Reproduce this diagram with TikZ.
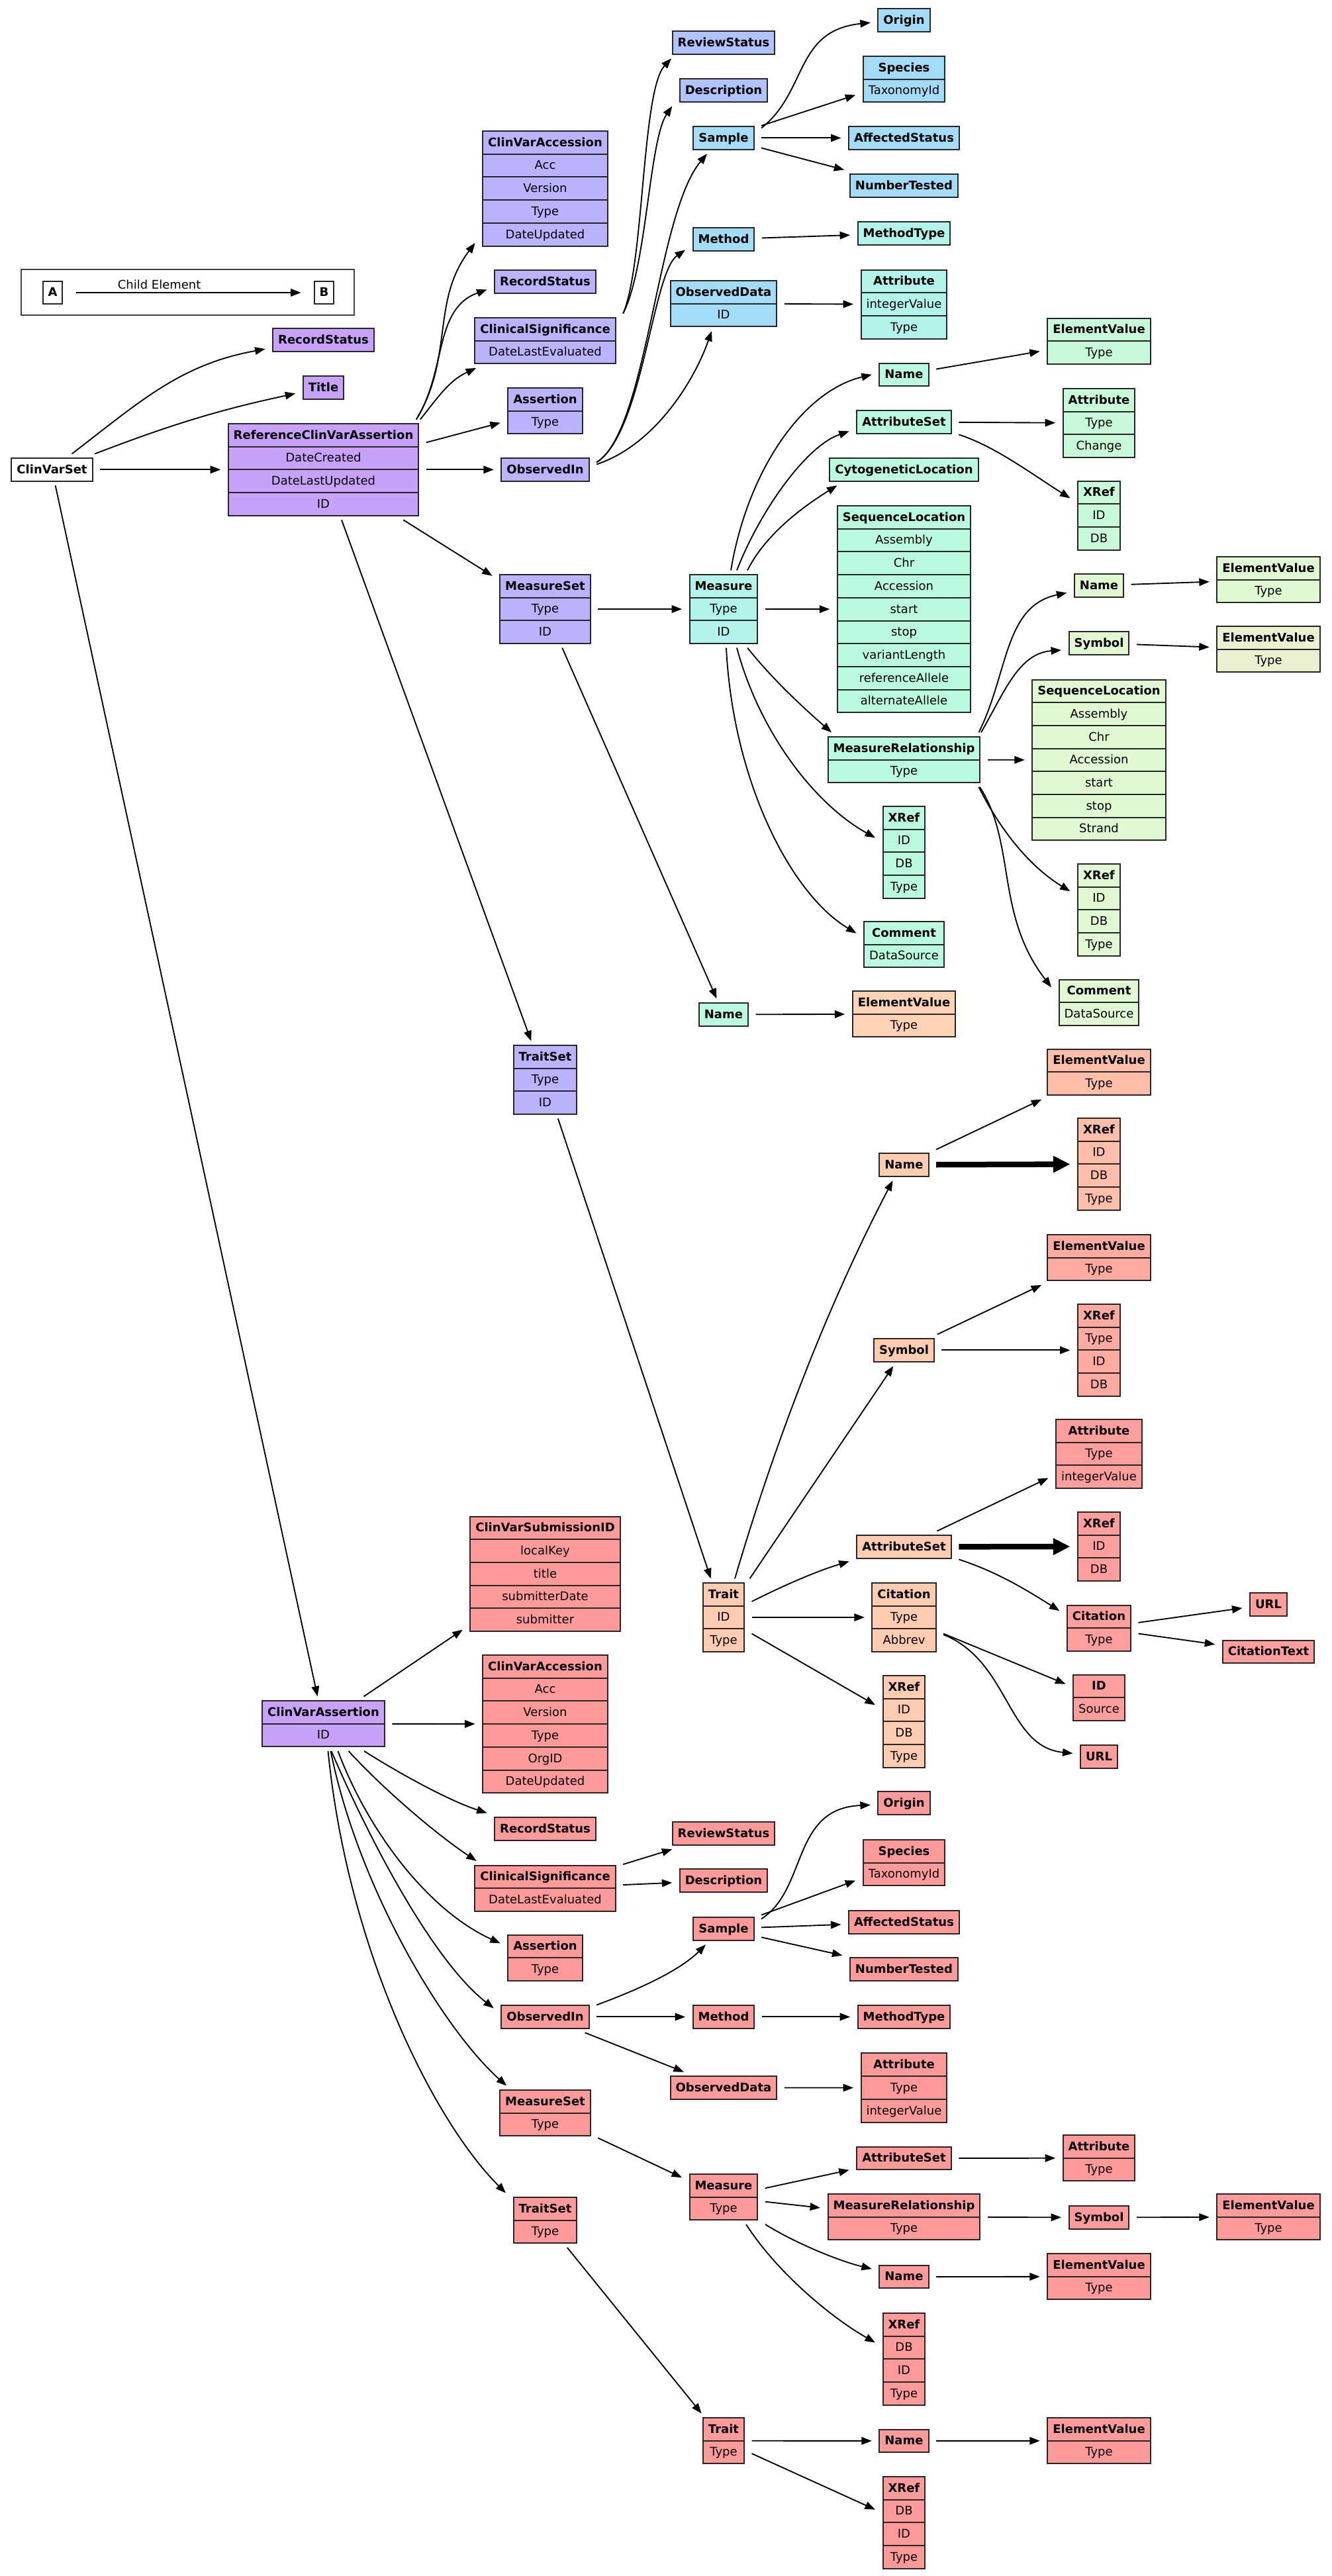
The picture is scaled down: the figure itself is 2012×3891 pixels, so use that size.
\documentclass[tikz,border=0pt]{standalone}
\usepackage{fontspec}
\setmainfont{DejaVu Sans}
\usepackage{xcolor}
\usepackage{tikz}
\usetikzlibrary{arrows.meta,calc,shapes.multipart}
\definecolor{cvPurple}{HTML}{C8A2F9}
\definecolor{cvLav}{HTML}{BCB3FE}
\definecolor{cvPeri}{HTML}{B0C3FC}
\definecolor{cvBlue}{HTML}{A2DCF6}
\definecolor{cvAqua}{HTML}{B2F3EA}
\definecolor{cvGreen}{HTML}{BAFAE3}
\definecolor{cvMint}{HTML}{C8FADA}
\definecolor{cvLime}{HTML}{E0F9D3}
\definecolor{cvKhaki}{HTML}{EBF1D0}
\definecolor{cvPeachA}{HTML}{FFD4B6}
\definecolor{cvPeach}{HTML}{FFCCB1}
\definecolor{cvSalmon}{HTML}{FFBEA9}
\definecolor{cvCoral}{HTML}{FFAAA0}
\definecolor{cvRose}{HTML}{FF9E9C}
\definecolor{cvRed}{HTML}{FF9A9A}
\newcommand{\rowstrut}{\rule[-4.2pt]{0pt}{13.08pt}}
\newcommand{\hdr}[1]{\rowstrut\textbf{#1}}
\newcommand{\fld}[1]{\rowstrut#1}

\begin{document}
\begin{tikzpicture}[
  x=0.4pt, y=-0.4pt,
  font=\fontsize{7.2}{8.6}\selectfont,
  rec/.style={rectangle split, rectangle split parts=#1, draw=black!85, line width=0.8pt,
              inner xsep=3.2pt, inner ysep=0pt, outer xsep=4.6pt, outer ysep=2.6pt},
  rec/.default=1,
  arrow/.style={-{Triangle[length=6.2pt,width=4.6pt]}, line width=0.75pt},
  bigarrow/.style={-{Triangle[length=10.3pt,width=9.6pt]}, line width=3.4pt}
]
\path[use as bounding box, fill=white] (0,0) rectangle (2012,3891);

\draw[line width=0.7pt, draw=black!75] (32,407) rectangle (535,476);
\node[rec, fill=white] (lgA) at (79.5,442) {\hdr{A}};
\node[rec, fill=white] (lgB) at (489.5,442) {\hdr{B}};

\node[rec, fill=white] (cvs) at (78.5,709.4) {\hdr{ClinVarSet}};
\node[rec, fill=cvPurple] (rsA) at (488.5,513.4) {\hdr{RecordStatus}};
\node[rec, fill=cvPurple] (title) at (488.5,585.4) {\hdr{Title}};
\node[rec=4, fill=cvPurple] (rcva) at (488.5,709.4) {\hdr{ReferenceClinVarAssertion}\nodepart{two}\fld{DateCreated}\nodepart{three}\fld{DateLastUpdated}\nodepart{four}\fld{ID}};
\node[rec=5, fill=cvLav] (cvaccA) at (823.5,284.75) {\hdr{ClinVarAccession}\nodepart{two}\fld{Acc}\nodepart{three}\fld{Version}\nodepart{four}\fld{Type}\nodepart{five}\fld{DateUpdated}};
\node[rec, fill=cvLav] (rsB) at (823.5,425.4) {\hdr{RecordStatus}};
\node[rec=2, fill=cvLav] (csA) at (823.5,514.7) {\hdr{ClinicalSignificance}\nodepart{two}\fld{DateLastEvaluated}};
\node[rec=2, fill=cvLav] (asrtA) at (823.5,620.7) {\hdr{Assertion}\nodepart{two}\fld{Type}};
\node[rec, fill=cvLav] (obsA) at (823.5,709.4) {\hdr{ObservedIn}};
\node[rec=3, fill=cvLav] (msA) at (823.5,920) {\hdr{MeasureSet}\nodepart{two}\fld{Type}\nodepart{three}\fld{ID}};
\node[rec=3, fill=cvLav] (tsA) at (823.5,1631) {\hdr{TraitSet}\nodepart{two}\fld{Type}\nodepart{three}\fld{ID}};
\node[rec, fill=cvPeri] (revA) at (1093,64.4) {\hdr{ReviewStatus}};
\node[rec, fill=cvPeri] (descA) at (1093,136.4) {\hdr{Description}};
\node[rec, fill=cvBlue] (smpA) at (1093,208.4) {\hdr{Sample}};
\node[rec, fill=cvBlue] (mthA) at (1093,361.4) {\hdr{Method}};
\node[rec=2, fill=cvBlue] (odA) at (1093,458.7) {\hdr{ObservedData}\nodepart{two}\fld{ID}};
\node[rec, fill=cvBlue] (origA) at (1365.5,30.2) {\hdr{Origin}};
\node[rec=2, fill=cvBlue] (spcA) at (1365.5,119.7) {\hdr{Species}\nodepart{two}\fld{TaxonomyId}};
\node[rec, fill=cvBlue] (affA) at (1365.5,208.4) {\hdr{AffectedStatus}};
\node[rec, fill=cvBlue] (numA) at (1365.5,280.4) {\hdr{NumberTested}};
\node[rec, fill=cvAqua] (mtA) at (1365.5,352.4) {\hdr{MethodType}};
\node[rec=3, fill=cvAqua] (attA) at (1365.5,459.7) {\hdr{Attribute}\nodepart{two}\fld{integerValue}\nodepart{three}\fld{Type}};
\node[rec=3, fill=cvAqua] (measA) at (1093,920) {\hdr{Measure}\nodepart{two}\fld{Type}\nodepart{three}\fld{ID}};
\node[rec, fill=cvGreen] (nameA) at (1365.5,565.9) {\hdr{Name}};
\node[rec, fill=cvGreen] (atsA) at (1365.5,637.4) {\hdr{AttributeSet}};
\node[rec, fill=cvGreen] (cytoA) at (1365.5,709.4) {\hdr{CytogeneticLocation}};
\node[rec=9, fill=cvGreen] (slA) at (1365.5,920.2) {\hdr{SequenceLocation}\nodepart{two}\fld{Assembly}\nodepart{three}\fld{Chr}\nodepart{four}\fld{Accession}\nodepart{five}\fld{start}\nodepart{six}\fld{stop}\nodepart{seven}\fld{variantLength}\nodepart{eight}\fld{referenceAllele}\nodepart{nine}\fld{alternateAllele}};
\node[rec=2, fill=cvGreen] (mrA) at (1365.5,1147.5) {\hdr{MeasureRelationship}\nodepart{two}\fld{Type}};
\node[rec=4, fill=cvGreen] (xrA) at (1365.5,1287.4) {\hdr{XRef}\nodepart{two}\fld{ID}\nodepart{three}\fld{DB}\nodepart{four}\fld{Type}};
\node[rec=2, fill=cvGreen] (cmtA) at (1365.5,1426.7) {\hdr{Comment}\nodepart{two}\fld{DataSource}};
\node[rec, fill=cvGreen] (nameMS) at (1093,1532.4) {\hdr{Name}};
\node[rec=2, fill=cvPeachA] (evMS) at (1365.5,1531.7) {\hdr{ElementValue}\nodepart{two}\fld{Type}};
\node[rec=2, fill=cvMint] (evNA) at (1660,515.3) {\hdr{ElementValue}\nodepart{two}\fld{Type}};
\node[rec=3, fill=cvMint] (attAS) at (1660,639) {\hdr{Attribute}\nodepart{two}\fld{Type}\nodepart{three}\fld{Change}};
\node[rec=3, fill=cvMint] (xrAS) at (1660,778.6) {\hdr{XRef}\nodepart{two}\fld{ID}\nodepart{three}\fld{DB}};
\node[rec, fill=cvLime] (nameMR) at (1660,884.4) {\hdr{Name}};
\node[rec=2, fill=cvLime] (evNMR) at (1916,875.7) {\hdr{ElementValue}\nodepart{two}\fld{Type}};
\node[rec, fill=cvLime] (symMR) at (1660,971.4) {\hdr{Symbol}};
\node[rec=2, fill=cvKhaki] (evSMR) at (1916,980.7) {\hdr{ElementValue}\nodepart{two}\fld{Type}};
\node[rec=7, fill=cvLime] (slMR) at (1660,1148) {\hdr{SequenceLocation}\nodepart{two}\fld{Assembly}\nodepart{three}\fld{Chr}\nodepart{four}\fld{Accession}\nodepart{five}\fld{start}\nodepart{six}\fld{stop}\nodepart{seven}\fld{Strand}};
\node[rec=4, fill=cvLime] (xrMR) at (1660,1374.4) {\hdr{XRef}\nodepart{two}\fld{ID}\nodepart{three}\fld{DB}\nodepart{four}\fld{Type}};
\node[rec=2, fill=cvLime] (cmtMR) at (1660,1514.3) {\hdr{Comment}\nodepart{two}\fld{DataSource}};

\node[rec=3, fill=cvPeach] (trA) at (1093,2443) {\hdr{Trait}\nodepart{two}\fld{ID}\nodepart{three}\fld{Type}};
\node[rec, fill=cvPeach] (nameT) at (1365.5,1759.4) {\hdr{Name}};
\node[rec=2, fill=cvSalmon] (evNT) at (1660,1619.4) {\hdr{ElementValue}\nodepart{two}\fld{Type}};
\node[rec=4, fill=cvSalmon] (xrNT) at (1660,1758.4) {\hdr{XRef}\nodepart{two}\fld{ID}\nodepart{three}\fld{DB}\nodepart{four}\fld{Type}};
\node[rec, fill=cvPeach] (symT) at (1365.5,2039.4) {\hdr{Symbol}};
\node[rec=2, fill=cvCoral] (evST) at (1660,1899.7) {\hdr{ElementValue}\nodepart{two}\fld{Type}};
\node[rec=4, fill=cvCoral] (xrST) at (1660,2039.4) {\hdr{XRef}\nodepart{two}\fld{Type}\nodepart{three}\fld{ID}\nodepart{four}\fld{DB}};
\node[rec, fill=cvPeach] (atsT) at (1365.5,2336.4) {\hdr{AttributeSet}};
\node[rec=3, fill=cvRose] (attT) at (1660,2196) {\hdr{Attribute}\nodepart{two}\fld{Type}\nodepart{three}\fld{integerValue}};
\node[rec=3, fill=cvRose] (xrAT) at (1660,2336) {\hdr{XRef}\nodepart{two}\fld{ID}\nodepart{three}\fld{DB}};
\node[rec=3, fill=cvPeach] (citT) at (1365.5,2443) {\hdr{Citation}\nodepart{two}\fld{Type}\nodepart{three}\fld{Abbrev}};
\node[rec=4, fill=cvPeach] (xrT) at (1365.5,2600.4) {\hdr{XRef}\nodepart{two}\fld{ID}\nodepart{three}\fld{DB}\nodepart{four}\fld{Type}};
\node[rec=2, fill=cvRose] (citAT) at (1660,2459.2) {\hdr{Citation}\nodepart{two}\fld{Type}};
\node[rec, fill=cvRose] (urlC) at (1916,2423.4) {\hdr{URL}};
\node[rec, fill=cvRose] (ctxt) at (1916,2495) {\hdr{CitationText}};
\node[rec=2, fill=cvRose] (idC) at (1660,2564.4) {\hdr{ID}\nodepart{two}\fld{Source}};
\node[rec, fill=cvRose] (urlB) at (1660,2653.4) {\hdr{URL}};

\node[rec=2, fill=cvPurple] (cva) at (488.5,2603.7) {\hdr{ClinVarAssertion}\nodepart{two}\fld{ID}};
\node[rec=5, fill=cvRed] (subId) at (823.5,2377.4) {\hdr{ClinVarSubmissionID}\nodepart{two}\fld{localKey}\nodepart{three}\fld{title}\nodepart{four}\fld{submitterDate}\nodepart{five}\fld{submitter}};
\node[rec=6, fill=cvRed] (cvaccB) at (823.5,2604.1) {\hdr{ClinVarAccession}\nodepart{two}\fld{Acc}\nodepart{three}\fld{Version}\nodepart{four}\fld{Type}\nodepart{five}\fld{OrgID}\nodepart{six}\fld{DateUpdated}};
\node[rec, fill=cvRed] (rsC) at (823.5,2762.4) {\hdr{RecordStatus}};
\node[rec=2, fill=cvRed] (csB) at (823.5,2852.2) {\hdr{ClinicalSignificance}\nodepart{two}\fld{DateLastEvaluated}};
\node[rec=2, fill=cvRed] (asrtB) at (823.5,2957.3) {\hdr{Assertion}\nodepart{two}\fld{Type}};
\node[rec, fill=cvRed] (obsB) at (823.5,3046.4) {\hdr{ObservedIn}};
\node[rec=2, fill=cvRed] (msB) at (823.5,3191.7) {\hdr{MeasureSet}\nodepart{two}\fld{Type}};
\node[rec=2, fill=cvRed] (tsB) at (823.5,3353.7) {\hdr{TraitSet}\nodepart{two}\fld{Type}};
\node[rec, fill=cvRed] (revB) at (1093,2769.4) {\hdr{ReviewStatus}};
\node[rec, fill=cvRed] (descB) at (1093,2840.4) {\hdr{Description}};
\node[rec, fill=cvRed] (smpB) at (1093,2913.4) {\hdr{Sample}};
\node[rec, fill=cvRed] (mthB) at (1093,3046.4) {\hdr{Method}};
\node[rec, fill=cvRed] (odB) at (1093,3153.4) {\hdr{ObservedData}};
\node[rec, fill=cvRed] (origB) at (1365.5,2723.4) {\hdr{Origin}};
\node[rec=2, fill=cvRed] (spcB) at (1365.5,2813.7) {\hdr{Species}\nodepart{two}\fld{TaxonomyId}};
\node[rec, fill=cvRed] (affB) at (1365.5,2903.4) {\hdr{AffectedStatus}};
\node[rec, fill=cvRed] (numB) at (1365.5,2974.4) {\hdr{NumberTested}};
\node[rec, fill=cvRed] (mtB) at (1365.5,3046.4) {\hdr{MethodType}};
\node[rec=3, fill=cvRed] (attB) at (1365.5,3153.5) {\hdr{Attribute}\nodepart{two}\fld{Type}\nodepart{three}\fld{integerValue}};
\node[rec=2, fill=cvRed] (measB) at (1093,3318.7) {\hdr{Measure}\nodepart{two}\fld{Type}};
\node[rec, fill=cvRed] (atsB) at (1365.5,3259.9) {\hdr{AttributeSet}};
\node[rec=2, fill=cvRed] (attAB) at (1660,3259.7) {\hdr{Attribute}\nodepart{two}\fld{Type}};
\node[rec=2, fill=cvRed] (mrB) at (1365.5,3348.7) {\hdr{MeasureRelationship}\nodepart{two}\fld{Type}};
\node[rec, fill=cvRed] (symB) at (1660,3349.4) {\hdr{Symbol}};
\node[rec=2, fill=cvRed] (evSB) at (1916,3348.7) {\hdr{ElementValue}\nodepart{two}\fld{Type}};
\node[rec, fill=cvRed] (nameB) at (1365.5,3439.1) {\hdr{Name}};
\node[rec=2, fill=cvRed] (evNB) at (1660,3438.7) {\hdr{ElementValue}\nodepart{two}\fld{Type}};
\node[rec=4, fill=cvRed] (xrB) at (1365.5,3563.4) {\hdr{XRef}\nodepart{two}\fld{DB}\nodepart{three}\fld{ID}\nodepart{four}\fld{Type}};
\node[rec=2, fill=cvRed] (trB) at (1093,3686.7) {\hdr{Trait}\nodepart{two}\fld{Type}};
\node[rec, fill=cvRed] (nameTB) at (1365.5,3686.9) {\hdr{Name}};
\node[rec=2, fill=cvRed] (evTB) at (1660,3686.7) {\hdr{ElementValue}\nodepart{two}\fld{Type}};
\node[rec=4, fill=cvRed] (xrTB) at (1365.5,3810.4) {\hdr{XRef}\nodepart{two}\fld{DB}\nodepart{three}\fld{ID}\nodepart{four}\fld{Type}};

\draw[arrow, shorten <=3.8pt, shorten >=3.4pt] (lgA) -- node[pos=0.377, yshift=4.8pt] (lgTxt) {Child Element} (lgB);

\draw[arrow] (cvs) -- (rcva);
\draw[arrow] (cvs) -- (cva);
\draw[arrow] ($(cvs.north)+(30,0)$) .. controls +(103,-79) and +(-128,23) .. ($(rsA.south west)+(0,-10)$);
\draw[arrow] ($(cvs.north east)+(-8,0)$) .. controls +(112,-43) and +(-117,25) .. ($(title.west)+(0,9)$);
\draw[arrow] ($(rcva.north east)+(-15,0)$) .. controls +(57,-94) and +(-67,88) .. ($(cvaccA.south west)+(0,-11)$);
\draw[arrow] ($(rcva.north east)+(-15,0)$) .. controls +(46,-73) and +(-81,29) .. ($(rsB.west)+(0,12)$);
\draw[arrow] ($(rcva.north east)+(-9,0)$) .. controls +(28,-35) and +(-41,19) .. ($(csA.south west)+(13.5,0)$);
\draw[arrow] (rcva) -- (asrtA);
\draw[arrow] (rcva) -- (obsA);
\draw[arrow] (rcva) -- (msA);
\draw[arrow] (rcva) -- (tsA);
\draw[arrow] (csA.north east) .. controls +(32,-74) and +(-45,48) .. ($(revA.south west)+(10,0)$);
\draw[arrow] (csA.north east) .. controls +(36,-70) and +(-35,52) .. (descA.south west);
\draw[arrow] ($(obsA.east)+(0,-11)$) .. controls +(77,-48) and +(-77,92) .. ($(smpA.south)+(-25,0)$);
\draw[arrow] ($(obsA.east)+(0,-11)$) .. controls +(70,-45) and +(-50,35) .. ($(mthA.west)+(0,16)$);
\draw[arrow] ($(obsA.east)+(0,-8)$) .. controls +(90,-30) and +(-25,72) .. ($(odA.south)+(-18,0)$);
\draw[arrow] ($(smpA.east)+(0,-15)$) .. controls +(70,-55) and +(-115,12) .. ($(origA.west)+(0,4)$);
\draw[arrow] (smpA) -- (spcA);
\draw[arrow] (smpA) -- (affA);
\draw[arrow] (smpA) -- (numA);
\draw[arrow] (mthA) -- (mtA);
\draw[arrow] (odA) -- (attA);
\draw[arrow] (msA) -- (measA);
\draw[arrow] (msA) -- (nameMS);
\draw[arrow] (nameMS) -- (evMS);
\draw[arrow] ($(measA.north)+(11,0)$) .. controls +(25,-150) and +(-105,25) .. (nameA.west);
\draw[arrow] ($(measA.north)+(20,0)$) .. controls +(35,-90) and +(-65,22) .. ($(atsA.west)+(0,14)$);
\draw[arrow] ($(measA.north)+(36,0)$) .. controls +(30,-60) and +(-40,25) .. ($(cytoA.south west)+(22.5,0)$);
\draw[arrow] (measA) -- (slA);
\draw[arrow] ($(measA.south)+(36,0)$) .. controls +(40,50) and +(-40,-35) .. ($(mrA.north west)+(17,0)$);
\draw[arrow] ($(measA.south)+(20,0)$) .. controls +(35,130) and +(-90,-50) .. ($(xrA.west)+(0,-22)$);
\draw[arrow] ($(measA.south)+(4,0)$) .. controls +(10,200) and +(-100,-60) .. ($(cmtA.west)+(0,-17)$);
\draw[arrow] (nameA) -- (evNA);
\draw[arrow] (atsA) -- (attAS);
\draw[arrow] ($(atsA.east)+(0,19)$) .. controls +(55,18) and +(-60,-38) .. ($(xrAS.west)+(0,-26)$);
\draw[arrow] ($(mrA.north east)+(-13.5,0)$) .. controls +(45,-90) and +(-95,20) .. ($(nameMR.west)+(0,11)$);
\draw[arrow] ($(mrA.north east)+(-10,0)$) .. controls +(35,-60) and +(-65,5) .. ($(symMR.west)+(0,10.5)$);
\draw[arrow] (mrA) -- (slMR);
\draw[arrow] ($(mrA.south east)+(-13.5,0)$) .. controls +(30,60) and +(-65,-40) .. ($(xrMR.west)+(0,-28)$);
\draw[arrow] ($(mrA.south east)+(-12,0)$) .. controls +(55,85) and +(-85,-110) .. ($(cmtMR.west)+(0,-23)$);
\draw[arrow] (nameMR) -- (evNMR);
\draw[arrow] (symMR) -- (evSMR);

\draw[arrow] (tsA) -- (trA);
\draw[arrow] ($(trA.north)+(17,0)$) .. controls +(60,-204) and +(-99,189) .. ($(nameT.south)+(-17,0)$);
\draw[arrow] (trA) -- (symT);
\draw[arrow] ($(trA.east)+(0,-24)$) .. controls +(50,-25) and +(-50,15) .. ($(atsT.west)+(0,22)$);
\draw[arrow] (trA) -- (citT);
\draw[arrow] (trA) -- (xrT);
\draw[arrow] (nameT) -- (evNT);
\draw[bigarrow] (nameT) -- (xrNT);
\draw[arrow] (symT) -- (evST);
\draw[arrow] (symT) -- (xrST);
\draw[arrow] (atsT) -- (attT);
\draw[bigarrow] (atsT) -- (xrAT);
\draw[arrow] ($(atsT.east)+(0,19)$) .. controls +(55,18) and +(-55,-35) .. ($(citAT.west)+(0,-26)$);
\draw[arrow] (citT) -- (idC);
\draw[arrow] ($(citT.east)+(0,26)$) .. controls +(100,40) and +(-100,-10) .. ($(urlB.west)+(0,-5)$);
\draw[arrow] (citAT) -- (urlC);
\draw[arrow] (citAT) -- (ctxt);

\draw[arrow] (cva) -- (subId);
\draw[arrow] (cva) -- (cvaccB);
\draw[arrow] ($(cva.south)+(61.5,0)$) .. controls +(60,38) and +(-55,-18) .. (rsC.north west);
\draw[arrow] ($(cva.south)+(38,0)$) .. controls +(55,60) and +(-60,-40) .. ($(csB.north west)+(14,0)$);
\draw[arrow] ($(cva.south)+(22,0)$) .. controls +(45,120) and +(-110,-50) .. ($(asrtB.west)+(0,-22)$);
\draw[arrow] ($(cva.south)+(12,0)$) .. controls +(60,140) and +(-90,-70) .. ($(obsB.west)+(0,-13)$);
\draw[arrow] ($(cva.south)+(11,0)$) .. controls +(40,200) and +(-100,-90) .. ($(msB.north west)+(21.5,0)$);
\draw[arrow] ($(cva.south)+(7,0)$) .. controls +(30,300) and +(-110,-110) .. (tsB.north west);
\draw[arrow] (csB) -- (revB);
\draw[arrow] (csB) -- (descB);
\draw[arrow] ($(obsB.east)+(0,-18)$) .. controls +(60,-22) and +(-40,40) .. ($(smpB.south)+(-27,0)$);
\draw[arrow] (obsB) -- (mthB);
\draw[arrow] (obsB) -- (odB);
\draw[arrow] ($(smpB.east)+(0,-15)$) .. controls +(70,-45) and +(-120,5) .. ($(origB.west)+(0,3)$);
\draw[arrow] (smpB) -- (spcB);
\draw[arrow] (smpB) -- (affB);
\draw[arrow] (smpB) -- (numB);
\draw[arrow] (mthB) -- (mtB);
\draw[arrow] (odB) -- (attB);
\draw[arrow] (msB) -- (measB);
\draw[arrow] (measB) -- (atsB);
\draw[arrow] (measB) -- (mrB);
\draw[arrow] (measB.south east) .. controls +(45,28) and +(-50,-12) .. ($(nameB.west)+(0,-12)$);
\draw[arrow] ($(measB.south)+(34,0)$) .. controls +(45,70) and +(-70,-40) .. ($(xrB.west)+(0,-25)$);
\draw[arrow] (atsB) -- (attAB);
\draw[arrow] (mrB) -- (symB);
\draw[arrow] (symB) -- (evSB);
\draw[arrow] (nameB) -- (evNB);
\draw[arrow] (tsB) -- (trB);
\draw[arrow] (trB) -- (nameTB);
\draw[arrow] (trB) -- (xrTB);
\draw[arrow] (nameTB) -- (evTB);
\end{tikzpicture}
\end{document}
